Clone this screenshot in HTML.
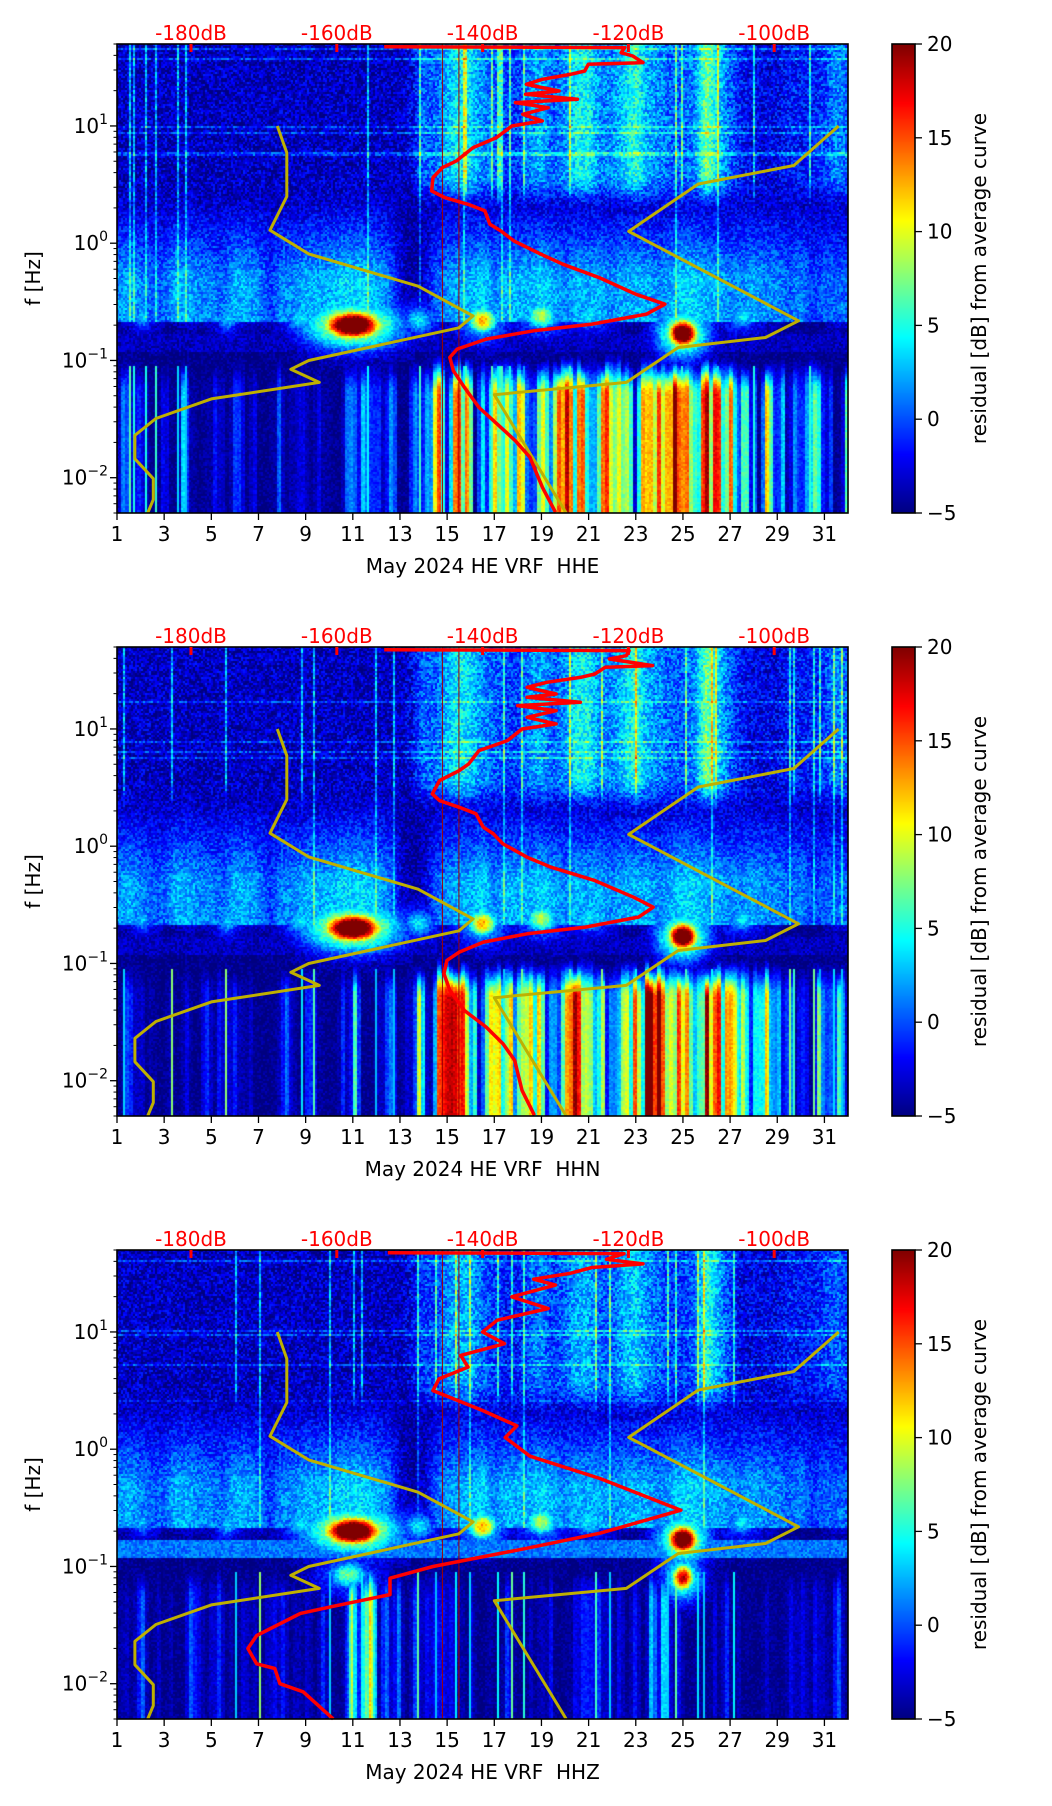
<!DOCTYPE html>
<html><head><meta charset="utf-8">
<style>
html,body{margin:0;padding:0;background:#fff;}
#wrap{position:relative;width:1052px;height:1806px;overflow:hidden;background:#fff;font-family:"DejaVu Sans","Liberation Sans",sans-serif;}
canvas{position:absolute;}
svg{position:absolute;left:0;top:0;}
</style></head>
<body>
<div id="wrap">
<canvas id="c0"></canvas>
<canvas id="c1"></canvas>
<canvas id="c2"></canvas>
<canvas id="cb0"></canvas>
<canvas id="cb1"></canvas>
<canvas id="cb2"></canvas>
<svg id="ov" width="1052" height="1806"></svg>
</div>
<script>
// ---------- data (half-day resolution, day 1.0 .. 32.0) ----------
const days = [1,3,5,7,9,11,13,15,17,19,21,23,25,27,29,31];
const dbTicks = [-180,-160,-140,-120,-100];
const cbTicks = [20,15,10,5,0,-5];
const stations = ["HHE","HHN","HHZ"];

const loHHE = [-1,1,2,-3,-3,0,2,-2,1,3,0,2,1,-2,3,-1,2,0,4,1,3,4,2,3,2,3,8,11,12,14,10,8,8,11,14,12,10,12,14,16,13,11,10,12,14,17,17,16,12,14,19,20,15,10,8,10,5,7,5,5,4,4,3];
const loHHN = [-1,1,2,-3,-3,0,2,-2,1,3,0,2,1,-2,3,-1,2,0,4,1,3,4,2,3,2,3,8,11,12,14,10,8,8,11,14,12,10,12,14,16,13,11,10,12,14,17,17,16,12,14,19,20,15,10,8,10,5,7,5,5,4,4,3];
const loHHZ = [-1,-2,0,-2,-2,-1,-1,-2,-1,-1,-2,-1,-1,-2,-1,-1,-2,-2,-1,0,12,15,6,3,0,-1,-1,-1,-2,-1,-1,-2,-1,-1,-2,-1,-2,-2,-1,-1,-2,-1,-1,-1,-1,2,5,3,-1,-1,-1,0,-1,-2,-1,-1,-2,-1,-1,-2,-1,-1,-2];
const midHHE = [2,3,2,1,1,3,3,2,2,1,3,3,2,0,2,2,3,3,3,4,4,4,3,2,-2,-4,-3,1,2,3,3,4,2,3,3,3,4,3,2,3,3,3,2,3,3,3,2,3,4,4,3,3,2,2,3,2,2,1,2,0,1,1,1];
const midHHZ = [2,3,2,1,1,3,3,2,2,1,3,3,2,0,2,2,3,3,3,4,4,4,3,2,-2,-4,-3,1,2,3,3,4,2,3,3,3,4,3,2,3,3,3,2,3,3,3,2,3,4,4,3,3,2,2,3,2,2,1,2,0,1,1,1];
const hiHHE = [-3,-3,-3,-3,-3,-3,-3,-3,-3,-3,-3,-3,-3,-3,-3,-3,-3,-3,-3,-3,-3,-3,-3,-3,-3,-2,1,1,3,5,4,2,1,0,0,2,3,1,2,5,5,2,2,4,6,3,2,1,1,2,8,4,1,-1,-2,-2,-2,-1,-1,-1,0,2,1];
const hiHHZ = [-3,-3,-3,-3,-3,-3,-3,-3,-3,-3,-3,-3,-3,-3,-3,-3,-3,-3,-3,-3,-3,-3,-3,-3,-3,-2,0,0,2,3,3,1,0,-1,-1,1,2,0,1,3,3,1,1,3,4,2,1,0,0,1,6,3,0,-2,-2,-2,-2,-1,-1,-1,0,1,0];
// blobs: day, freq, amplitude, width (days)
const blobDayHHE = [11,16.5,19,25,2.1,4.1,5.7,6.8,8.8,13.8,21,27.5,31.7];
const blobFreqHHE = [0.2,0.22,0.24,0.17,0.24,0.3,0.23,0.29,0.23,0.22,0.24,0.24,0.28];
const blobAmpHHE = [34,18,14,32,8,8,8,7,9,9,9,9,7];
const blobWidHHE = [0.85,0.45,0.5,0.45,0.3,0.3,0.35,0.3,0.5,0.5,0.6,0.5,0.3];
const blobDayHHZ = [11,16.5,19,25,25,2.1,4.1,5.7,6.8,8.8,13.8,10.8,21,27.5,31.7];
const blobFreqHHZ = [0.2,0.22,0.24,0.17,0.08,0.24,0.3,0.23,0.29,0.23,0.22,0.085,0.24,0.24,0.28];
const blobAmpHHZ = [34,18,14,32,24,8,8,8,7,9,9,12,9,9,7];
const blobWidHHZ = [0.85,0.45,0.5,0.45,0.35,0.3,0.3,0.35,0.3,0.5,0.5,0.6,0.6,0.5,0.3];
// yellow reference curves (day, freq)
const yl1Day = [7.8,8.2,8.2,7.49,9.13,13.77,16.1,15.5,9.13,8.37,9.58,5.0,2.65,1.76,1.76,2.54,2.54,2.3];
const yl1Freq = [10,5.9,2.5,1.29,0.81,0.43,0.24,0.19,0.1,0.084,0.065,0.047,0.032,0.023,0.0145,0.0098,0.0065,0.005];
const yl2Day = [31.6,29.7,25.65,22.7,29.9,28.5,24.8,22.6,17.0,20.05];
const yl2Freq = [10,4.6,3.2,1.26,0.218,0.157,0.129,0.065,0.051,0.005];
// red PSD curves (dB on top axis, log10 freq)
const redLfN = [1.676,1.668,1.625,1.597,1.540,1.526,1.469,1.440,1.398,1.355,1.298,1.270,1.227,1.199,1.156,1.099,1.043,1.000,0.901,0.815,0.702,0.645,0.560,0.446,0.389,0.332,0.276,0.162,0.105,0.020,-0.094,-0.179,-0.293,-0.435,-0.520,-0.605,-0.690,-0.747,-0.818,-0.903,-0.974,-1.088,-1.230,-1.401,-1.543,-1.685,-1.827,-2.082,-2.295];
const redDbN = [-153.5,-119.9,-120.3,-122.6,-116.7,-123.2,-124.6,-126.6,-131.2,-133.9,-129.9,-133.9,-126.6,-135.2,-129.9,-133.9,-129.9,-134.6,-136.6,-140.5,-141.9,-143.2,-145.9,-146.9,-145.9,-143.2,-140.9,-139.9,-138.5,-137.2,-133.9,-130.6,-124.6,-119.3,-116.6,-118.6,-125.9,-133.9,-139.9,-143.2,-144.9,-145.3,-144.5,-142.5,-139.5,-137.2,-135.6,-134.6,-132.9];
const redLfE = [1.676,1.668,1.625,1.597,1.540,1.526,1.469,1.440,1.398,1.355,1.298,1.270,1.227,1.199,1.156,1.099,1.043,1.000,0.901,0.815,0.702,0.645,0.560,0.446,0.389,0.332,0.276,0.162,0.105,0.020,-0.094,-0.179,-0.293,-0.435,-0.520,-0.605,-0.690,-0.747,-0.818,-0.903,-0.974,-1.088,-1.230,-1.401,-1.543,-1.685,-1.827,-2.082,-2.295];
const redDbE = [-153.5,-120.5,-121.0,-119.4,-118.0,-125.5,-126.0,-128.0,-131.8,-134.0,-129.5,-134.1,-127.0,-135.5,-131.0,-134.5,-131.8,-136.0,-138.1,-141.3,-143.6,-145.5,-146.8,-147.0,-145.2,-142.0,-139.7,-139.0,-137.5,-135.7,-132.0,-129.0,-124.0,-119.0,-115.0,-117.5,-125.0,-133.0,-139.5,-143.5,-144.5,-144.0,-142.5,-140.5,-138.0,-135.5,-133.5,-131.8,-130.0];
const redLfZ = [1.676,1.668,1.62,1.58,1.55,1.5,1.45,1.4,1.3,1.2,1.1,1.0,0.9,0.8,0.7,0.6,0.5,0.33,0.2,0.1,-0.06,-0.25,-0.52,-0.716,-0.844,-1.0,-1.1,-1.24,-1.34,-1.40,-1.59,-1.70,-1.83,-1.87,-2.0,-2.07,-2.30];
const redDbZ = [-153,-120.6,-123,-118,-125,-128,-133,-130,-136,-131,-138,-140,-137,-143,-142,-146,-146.8,-140,-135.3,-136.9,-133.5,-123.9,-112.8,-123.9,-133.9,-146.8,-152.7,-152.7,-160.5,-165,-171,-172.2,-171,-168.5,-167.8,-164.6,-160.5];

// ---------- geometry ----------
const L=117, R=848, PH=469, TOPS=[44,647,1250], CBX=892, CBW=23;
const D0=1, D1=32, F0=Math.log10(0.005), F1=Math.log10(50);
function xS(d){return L+(d-D0)/(D1-D0)*(R-L);}
function yS(top,lf){return top+(F1-lf)/(F1-F0)*PH;}
function xDb(db){return 191+(db+180)*7.29;}

function jet(v){let t=(v+5)/25;t=Math.max(0,Math.min(1,t));
 const c=x=>Math.round(255*Math.max(0,Math.min(1,x)));
 return [c(1.5-Math.abs(4*t-3)),c(1.5-Math.abs(4*t-2)),c(1.5-Math.abs(4*t-1))];}
function hash(a,b){let h=(a*374761393+b*668265263)|0;h=(h^(h>>>13))*1274126177|0;h=h^(h>>>16);return ((h>>>0)%10000)/10000;}
function interp(arr,d){const p=(d-1)*2;const i=Math.max(0,Math.min(arr.length-2,Math.floor(p)));const f=Math.max(0,Math.min(1,p-i));return arr[i]*(1-f)+arr[i+1]*f;}
function sm(a,b,x){const t=Math.max(0,Math.min(1,(x-a)/(b-a)));return t*t*(3-2*t);}

const panels=[
 {lo:loHHE,mid:midHHE,hi:hiHHE,bd:blobDayHHE,bf:blobFreqHHE,ba:blobAmpHHE,bw:blobWidHHE,band:-3.5,seed:1},
 {lo:loHHN,mid:midHHE,hi:hiHHE,bd:blobDayHHE,bf:blobFreqHHE,ba:blobAmpHHE,bw:blobWidHHE,band:-3.5,seed:7},
 {lo:loHHZ,mid:midHHZ,hi:hiHHZ,bd:blobDayHHZ,bf:blobFreqHHZ,ba:blobAmpHHZ,bw:blobWidHHZ,band:1,seed:13}];

function drawSpec(k){
 const P=panels[k];const cv=document.getElementById('c'+k);
 const W=R-L,H=PH;cv.width=W;cv.height=H;cv.style.left=L+'px';cv.style.top=TOPS[k]+'px';
 const ctx=cv.getContext('2d');const img=ctx.createImageData(W,H);
 const cs=2;
 for(let cx=0;cx<W;cx+=cs){
  const d=D0+(cx+1)/W*(D1-D0);
  const hi=interp(P.hi,d),mid=interp(P.mid,d),lo=interp(P.lo,d);
  const sg=Math.floor(cx/4);
  const s=(hash(sg,P.seed)*0.6+hash(sg+1,P.seed)*0.4);
  const vline=hash(cx,P.seed+99);
  const expo=2.6-1.6*Math.max(0,Math.min(1,lo/12));
  const w0=Math.pow(s,expo)*1.5;
  const stripTop=-1.0+0.12*hash(sg,P.seed+5);
  for(let ry=0;ry<H;ry+=cs){
   const lf=F1-(ry+1)/H*(F1-F0);
   const n=hash(cx*3+P.seed,ry*5)*2-1;
   let v;
   const vh=hi-0.5+2.5*n+(vline>0.95?6:0)+(hash(ry,P.seed+3)>0.95?3:0);
   const shape=lf>-0.3?Math.max(0.15,1-(lf+0.3)/0.75):1;
   const vm=-4+(mid+3.5)*shape+2*n+(vline>0.975?4:0);
   if(lf>-0.68){const t=sm(0.25,0.6,lf);v=vm*(1-t)+vh*t;}
   else if(lf>-0.78){v=-5+n;}
   else if(lf>-0.92){v=P.band+1.5*n;}
   else{let w=w0;const tp=sm(stripTop,-1.3,lf);w*=tp;v=-5+(lo+5)*w+n;
        if(vline>0.95&&lf<-1.05)v=Math.max(v,2+6*hash(cx,P.seed+11));}
   let g=-99;
   for(let b=0;b<P.bd.length;b++){
    const bw=P.bw[b];
    const dd=(d-P.bd[b])/bw, df=(lf-Math.log10(P.bf[b]))/0.085;
    const r2=dd*dd+df*df;
    const e=-5+P.ba[b]*Math.exp(-r2/2)+1.5*n;
    const hl=-5+P.ba[b]*0.5*Math.exp(-r2/6)+1.5*n;
    const m=Math.max(e,hl);
    if(m>g)g=m;}
   if(g>v)v=g;
   const c=jet(v);
   for(let a=0;a<cs;a++)for(let bb=0;bb<cs;bb++){const X=cx+a,Y=ry+bb;if(X<W&&Y<H){const o=(Y*W+X)*4;img.data[o]=c[0];img.data[o+1]=c[1];img.data[o+2]=c[2];img.data[o+3]=255;}}
  }
 }
 ctx.putImageData(img,0,0);
 const cb=document.getElementById('cb'+k);cb.width=CBW;cb.height=PH;cb.style.left=CBX+'px';cb.style.top=TOPS[k]+'px';
 const c2=cb.getContext('2d');for(let y=0;y<PH;y++){const c=jet(20-y/PH*25);c2.fillStyle=`rgb(${c})`;c2.fillRect(0,y,CBW,1);}
}

const NS='http://www.w3.org/2000/svg';const ov=document.getElementById('ov');
function el(tag,attrs,txt){const e=document.createElementNS(NS,tag);for(const k in attrs)e.setAttribute(k,attrs[k]);if(txt!==undefined)e.textContent=txt;ov.appendChild(e);return e;}

function drawAxes(k){
 const top=TOPS[k],bot=top+PH;
 [14.8,15.5].forEach(d=>{const l=el('line',{x1:xS(d),x2:xS(d),y1:top,y2:bot,stroke:'#a00000','stroke-width':1});
  
  });
 [[yl1Day,yl1Freq],[yl2Day,yl2Freq]].forEach((c,i)=>{
  const pts=c[0].map((d,j)=>xS(d).toFixed(1)+','+yS(top,Math.log10(c[1][j])).toFixed(1)).join(' ');
  const p=el('polyline',{points:pts,fill:'none',stroke:'#bfb000','stroke-width':3,'stroke-linejoin':'round'});
  
  });
 const rl=[redLfE,redLfN,redLfZ][k],rd=[redDbE,redDbN,redDbZ][k];
 const rp=rl.map((lf,j)=>xDb(rd[j]).toFixed(1)+','+yS(top,lf).toFixed(1)).join(' ');
 const r=el('polyline',{points:rp,fill:'none',stroke:'#ff0000','stroke-width':3.5,'stroke-linejoin':'round'});
 
 
 const fr=el('rect',{x:L,y:top,width:R-L,height:PH,fill:'none',stroke:'#000','stroke-width':1.6});
 
 
 days.forEach(d=>{const x=xS(d);el('line',{x1:x,x2:x,y1:bot,y2:bot+7,stroke:'#000','stroke-width':1.3});
  const t=el('text',{x:x,y:bot+28,'font-size':20,'text-anchor':'middle'},String(d));
  
  });
 for(let e=-3;e<=1;e++){for(let m=1;m<10;m++){const lf=e+Math.log10(m);if(lf<F0||lf>F1)continue;const y=yS(top,lf);
   el('line',{x1:L-(m==1?7:3.5),x2:L,y1:y,y2:y,stroke:'#000','stroke-width':m==1?1.3:1});
   if(m==1){const t=el('text',{x:108,y:y+7,'font-size':20,'text-anchor':'end'});
    
    
    const a=document.createElementNS(NS,'tspan');a.textContent='10';t.appendChild(a);
    const b=document.createElementNS(NS,'tspan');b.setAttribute('dy','-9');b.setAttribute('font-size','14');b.textContent=(e<0?'\u2212':'')+Math.abs(e);t.appendChild(b);}}}
 dbTicks.forEach(db=>{const x=xDb(db);el('line',{x1:x,x2:x,y1:top,y2:top+8,stroke:'#ff0000','stroke-width':3});
  const t=el('text',{x:x,y:top-4,'font-size':20,'text-anchor':'middle',fill:'#ff0000'},db+'dB');
  
  });
 const yl=el('text',{x:40,y:top+PH/2,'font-size':20,'text-anchor':'middle',transform:`rotate(-90 40 ${top+PH/2})`},'f [Hz]');
 
 
 const xt=el('text',{x:(L+R)/2,y:bot+60,'font-size':20,'text-anchor':'middle'},'May 2024 HE VRF  '+stations[k]);
 
 
 xt.setAttribute('xml:space','preserve');xt.style.whiteSpace='pre';
 const cf=el('rect',{x:CBX,y:top,width:CBW,height:PH,fill:'none',stroke:'#000','stroke-width':1.6});
 
 
 cbTicks.forEach(v=>{const y=top+(20-v)/25*PH;el('line',{x1:CBX+CBW,x2:CBX+CBW+7,y1:y,y2:y,stroke:'#000','stroke-width':1.3});
  const t=el('text',{x:CBX+CBW+12,y:y+7,'font-size':20},(v<0?'\u2212':'')+Math.abs(v));
  
  });
 const cl=el('text',{x:986,y:top+PH/2,'font-size':20,'text-anchor':'middle',transform:`rotate(-90 986 ${top+PH/2})`},'residual [dB] from average curve');
 
 
}
for(let k=0;k<3;k++){drawSpec(k);drawAxes(k);}
</script>
</body></html>
